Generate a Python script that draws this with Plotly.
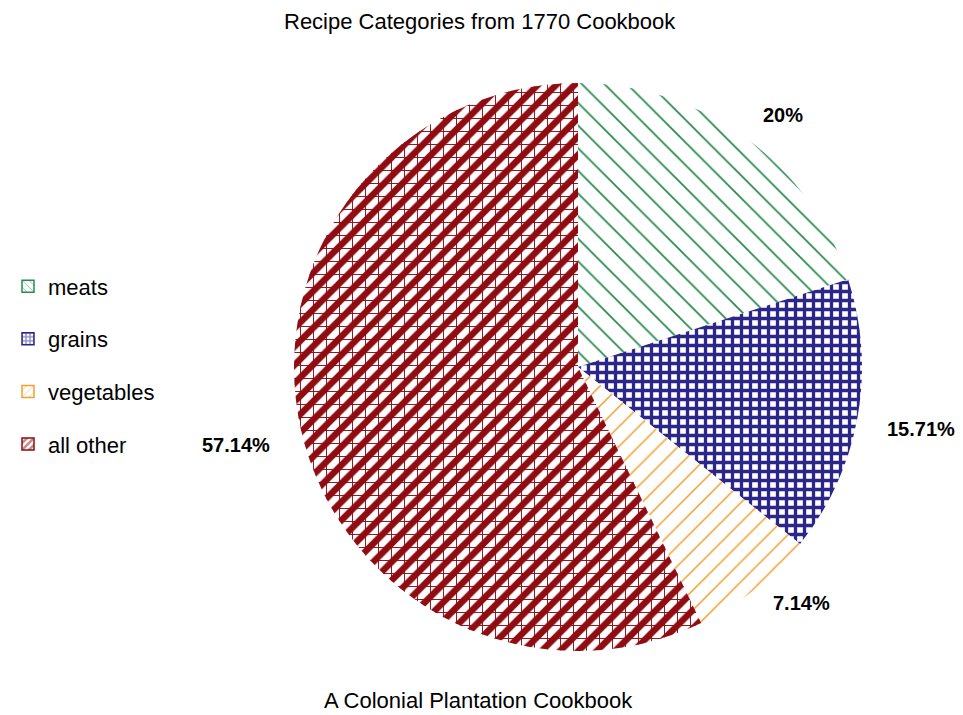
import math
import plotly.graph_objects as go

categories = ["meats", "grains", "vegetables", "all other"]
recipe_counts = [14, 11, 5, 40]
colors = ["#2a8a52", "#2b2687", "#f0a030", "#8e0c12"]
shapes = ["\\", "+", "/", "/"]
sizes = [16, 9, 14, 13]
solidity = [0.11, 0.6, 0.11, 0.5]

total = sum(recipe_counts)
pct_text = [f"{round(v / total * 100, 2):g}%" for v in recipe_counts]

W, H = 963, 715
CX, CY, R = 570, 359, 284          # pie centre / radius in div pixels
dom_x = [(CX - R) / W, (CX + R) / W]
dom_y = [1 - (CY + R) / H, 1 - (CY - R) / H]

fig = go.Figure()
fig.add_trace(go.Pie(
    labels=categories, values=recipe_counts,
    textinfo="none", sort=False, direction="clockwise", rotation=0,
    showlegend=False, hoverinfo="label+percent",
    marker=dict(colors=colors, line=dict(width=0),
                pattern=dict(shape=shapes, size=sizes, solidity=solidity,
                             fgcolor=colors, bgcolor="white")),
    domain=dict(x=dom_x, y=dom_y),
))
# grid overlay that turns the "all other" stripes into triangles
fig.add_trace(go.Pie(
    labels=categories, values=recipe_counts,
    textinfo="none", sort=False, direction="clockwise", rotation=0,
    showlegend=False, hoverinfo="skip",
    marker=dict(colors=["rgba(0,0,0,0)"] * 4, line=dict(width=0),
                pattern=dict(shape=["", "", "", "+"], size=sizes[3], solidity=0.14,
                             fgcolor=colors[3], bgcolor="rgba(0,0,0,0)")),
    domain=dict(x=dom_x, y=dom_y),
))

# legend entries (bar traces carry the same patterns)
leg_sizes = [6, 5, 6, 6]
leg_sol = [0.2, 0.6, 0.2, 0.5]
for i, c in enumerate(categories):
    fig.add_trace(go.Bar(
        x=[None], y=[None], name=c, legendgroup=c, showlegend=True,
        marker=dict(color="white", line=dict(color=colors[i], width=1.5),
                    pattern=dict(shape=shapes[i], size=leg_sizes[i], solidity=leg_sol[i],
                                 fgcolor=colors[i], bgcolor="white")),
    ))

# percentage labels placed outside each slice
annotations = []
label_r = [312, 312, 310, 314]
label_dy = [0, 6, -6, 8]
cum = 0
for v, t, r, dy in zip(recipe_counts, pct_text, label_r, label_dy):
    mid = (cum + v / 2) / total * 2 * math.pi
    cum += v
    px = CX + r * math.sin(mid)
    py = CY - r * math.cos(mid) + dy
    annotations.append(dict(
        text=t, x=px / W, y=1 - py / H, xref="paper", yref="paper",
        xanchor="left" if math.sin(mid) >= 0 else "right", yanchor="middle",
        showarrow=False, font=dict(size=20, weight="bold", color="black"),
    ))

annotations += [
    dict(text="Recipe Categories from 1770 Cookbook", x=472 / W, y=1 - 13 / H,
         xref="paper", yref="paper", xanchor="center", yanchor="middle",
         showarrow=False, font=dict(size=22)),
    dict(text="A Colonial Plantation Cookbook", x=470 / W, y=1 - 692 / H,
         xref="paper", yref="paper", xanchor="center", yanchor="middle",
         showarrow=False, font=dict(size=22)),
]

fig.update_layout(
    width=W, height=H,
    margin=dict(l=0, r=0, t=0, b=0),
    paper_bgcolor="white", plot_bgcolor="white",
    xaxis=dict(visible=False), yaxis=dict(visible=False),
    font=dict(family="Liberation Sans, Arial", color="black"),
    legend=dict(x=0.0, y=0.64, xanchor="left", yanchor="top",
                font=dict(size=22), tracegroupgap=21, itemclick=False),
    annotations=annotations,
)

fig.write_html("out.html")
